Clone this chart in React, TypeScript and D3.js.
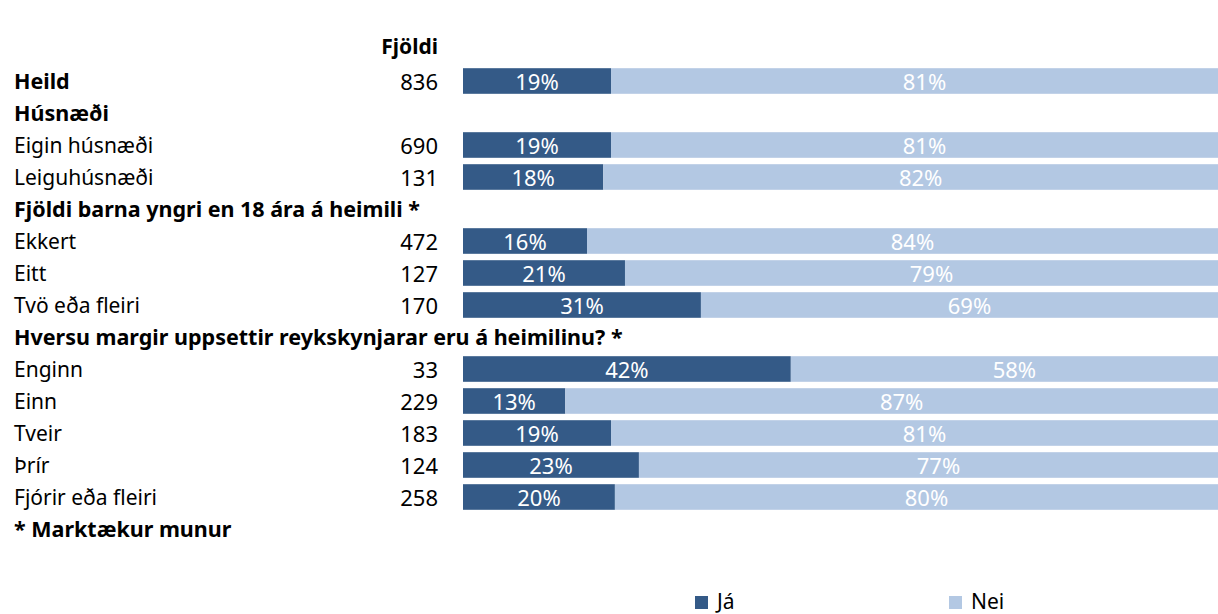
import React from "react";
import * as d3 from "d3";

const rowLabels = [
  "Heild",
  "Húsnæði",
  "Eigin húsnæði",
  "Leiguhúsnæði",
  "Fjöldi barna yngri en 18 ára á heimili *",
  "Ekkert",
  "Eitt",
  "Tvö eða fleiri",
  "Hversu margir uppsettir reykskynjarar eru á heimilinu? *",
  "Enginn",
  "Einn",
  "Tveir",
  "Þrír",
  "Fjórir eða fleiri",
  "* Marktækur munur",
];
// "total" | "header" | "item" | "note"
const rowKinds = [
  "total", "header", "item", "item", "header", "item", "item", "item",
  "header", "item", "item", "item", "item", "item", "note",
];
const counts: (number | null)[] = [
  836, null, 690, 131, null, 472, 127, 170, null, 33, 229, 183, 124, 258, null,
];
const jaValues: (number | null)[] = [
  19.1, null, 19.1, 18.1, null, 16.0, 20.9, 30.7, null, 42.3, 13.2, 19.1, 22.7, 19.6, null,
];
const seriesNames = ["Já", "Nei"];
const seriesColors = ["#345a87", "#b3c8e3"];
const countHeader = "Fjöldi";

const W = 1218;
const H = 614;
const FONT = "'Noto Sans', sans-serif";

export default function App() {
  const x = d3.scaleLinear().domain([0, 100]).range([463, 1238]);
  const y = d3
    .scaleBand<number>()
    .domain(rowLabels.map((_, i) => i))
    .range([65, 545])
    .paddingInner(0.2)
    .paddingOuter(0.1);
  const bw = y.bandwidth();

  return (
    <svg
      width={W}
      height={H}
      style={{ position: "absolute", left: 0, top: 0, display: "block" }}
      fontFamily={FONT}
    >
      <rect x={0} y={0} width={W} height={H} fill="#fff" />
      <text x={438} y={54} textAnchor="end" fontWeight="bold" fontSize={21} fill="#000">
        {countHeader}
      </text>
      {rowLabels.map((lab, i) => {
        const cy = (y(i) as number) + bw / 2;
        const bold = rowKinds[i] !== "item";
        const ja = jaValues[i];
        const c = counts[i];
        return (
          <g key={i}>
            <text
              x={14}
              y={cy + 8}
              fontSize={bold ? 21.5 : 21}
              fontWeight={bold ? "bold" : "normal"}
              fill="#000"
            >
              {lab}
            </text>
            {c !== null && (
              <text x={438} y={cy + 8.5} textAnchor="end" fontSize={22} fill="#000">
                {c}
              </text>
            )}
            {ja !== null && (
              <g>
                <rect x={x(0)} y={y(i)} width={x(ja) - x(0)} height={bw} fill={seriesColors[0]} />
                <rect x={x(ja)} y={y(i)} width={x(100) - x(ja)} height={bw} fill={seriesColors[1]} />
                <text
                  x={(x(0) + x(ja)) / 2}
                  y={cy + 9}
                  textAnchor="middle"
                  fontSize={22}
                  fill="#fff"
                >
                  {Math.round(ja)}%
                </text>
                <text
                  x={(x(ja) + x(100)) / 2}
                  y={cy + 9}
                  textAnchor="middle"
                  fontSize={22}
                  fill="#fff"
                >
                  {Math.round(100 - ja)}%
                </text>
              </g>
            )}
          </g>
        );
      })}
      {seriesNames.map((s, i) => {
        const lx = i === 0 ? 695 : 949;
        return (
          <g key={s}>
            <rect x={lx} y={596} width={13} height={13} fill={seriesColors[i]} />
            <text x={lx + 22} y={609} fontSize={21} fill="#000">
              {s}
            </text>
          </g>
        );
      })}
    </svg>
  );
}
